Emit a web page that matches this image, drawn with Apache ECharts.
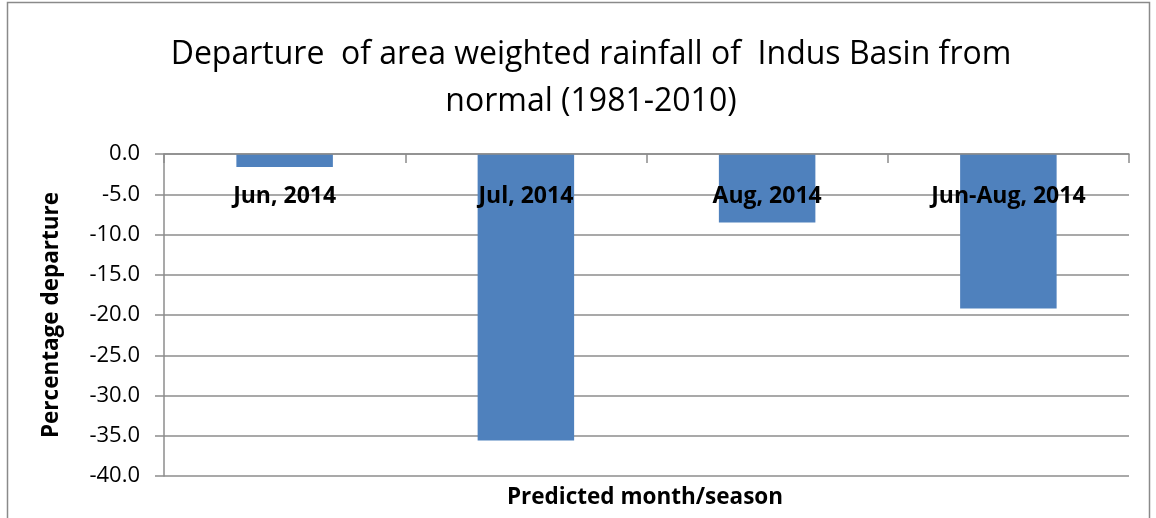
<!DOCTYPE html>
<html><head><meta charset="utf-8">
<script src="https://cdn.jsdelivr.net/npm/echarts@6/dist/echarts.min.js"></script>
<style>html,body{margin:0;padding:0;background:#fff}#c{width:1156px;height:518px}</style>
</head><body><div id="c"></div>
<script>
const categories = ["Jun, 2014", "Jul, 2014", "Aug, 2014", "Jun-Aug, 2014"];
const departures = [-1.6, -35.6, -8.5, -19.2];
const titleText = "Departure  of area weighted rainfall of  Indus Basin from\nnormal (1981-2010)";
const yAxisName = "Percentage departure";
const xAxisName = "Predicted month/season";

const FONT = "'Open Sans', 'Noto Sans', sans-serif";
const chart = echarts.init(document.getElementById('c'), null, {renderer: 'canvas'});
chart.setOption({
  animation: false,
  backgroundColor: '#fff',
  title: {
    text: titleText, left: 586, top: 26, textAlign: 'center',
    textStyle: {fontFamily: FONT, fontSize: 32, fontWeight: 'normal', color: '#000', lineHeight: 47}
  },
  graphic: [
    {type: 'rect', shape: {x: 7.5, y: 2.5, width: 1142, height: 520}, style: {fill: 'none', stroke: '#8a8a8a', lineWidth: 1.5}, silent: true},
    {type: 'text', x: 645, y: 498, style: {text: xAxisName, font: "bold 22.5px 'Open Sans', sans-serif", fill: '#000', align: 'center', verticalAlign: 'middle'}, silent: true}
  ],
  grid: {left: 164, right: 27, top: 154, bottom: 42, containLabel: false, outerBoundsMode: 'none'},
  xAxis: {
    type: 'category', data: categories, z: 10, position: 'top',
    axisLine: {onZero: false, lineStyle: {color: '#8c8c8c', width: 1.5}},
    axisTick: {show: true, inside: true, length: 9, lineStyle: {color: '#8c8c8c', width: 1.5}},
    axisLabel: {inside: true, margin: 31, fontFamily: FONT, fontSize: 23, fontWeight: 'bold', color: '#000'}
  },
  yAxis: {
    type: 'value', min: -40, max: 0, interval: 5,
    name: yAxisName, nameLocation: 'middle', nameGap: 101, nameRotate: 90,
    nameTextStyle: {fontFamily: FONT, fontSize: 22.5, fontWeight: 'bold', color: '#000'},
    axisLine: {show: true, lineStyle: {color: '#8c8c8c', width: 1.5}},
    axisTick: {show: true, length: 9, lineStyle: {color: '#8c8c8c', width: 1.5}},
    axisLabel: {margin: 24, fontFamily: FONT, fontSize: 22, color: '#000', formatter: v => v.toFixed(1)},
    splitLine: {show: true, lineStyle: {color: '#8c8c8c', width: 1.5}}
  },
  series: [{
    type: 'bar', data: departures, barWidth: '40%',
    itemStyle: {color: '#4F81BD'}
  }]
});
</script></body></html>
